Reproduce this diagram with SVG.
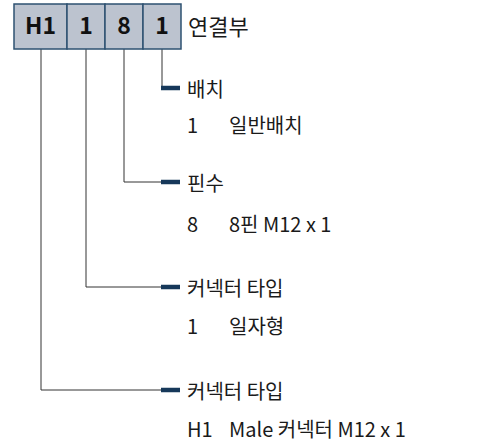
<svg xmlns="http://www.w3.org/2000/svg" width="481" height="442" viewBox="0 0 481 442">
<style>
.box{fill:#bcc3cf;stroke:#2e5272;stroke-width:1.5}
.code{font-family:"Noto Sans CJK KR","Noto Sans",sans-serif;font-weight:bold;font-size:23px;fill:#111;text-anchor:middle}
.t{font-family:"Noto Sans CJK KR","Noto Sans",sans-serif;font-size:20px;fill:#1a1a1a}
.title{font-family:"Noto Sans CJK KR","Noto Sans",sans-serif;font-size:22px;fill:#1a1a1a}
.ln{fill:none;stroke:#333;stroke-width:1}
.bar{stroke:#16385a;stroke-width:4.5}
</style>
<rect width="481" height="442" fill="#fff"/>
<g id="connectors">
<path class="ln" d="M162,49 V88 H161"/>
<path class="ln" d="M124,49 V182 H161"/>
<path class="ln" d="M86,49 V287 H161"/>
<path class="ln" d="M41,49 V390 H161"/>
<line class="bar" x1="161" y1="88" x2="180" y2="88"/>
<line class="bar" x1="161" y1="182" x2="180" y2="182"/>
<line class="bar" x1="161" y1="287" x2="180" y2="287"/>
<line class="bar" x1="161" y1="390" x2="180" y2="390"/>
</g>
<g id="header">
<rect class="box" x="14" y="4" width="53" height="45"/>
<rect class="box" x="67" y="4" width="38" height="45"/>
<rect class="box" x="105" y="4" width="38" height="45"/>
<rect class="box" x="143" y="4" width="38" height="45"/>
<text class="code" x="40.5" y="34">H1</text>
<text class="code" x="86" y="34">1</text>
<text class="code" x="124" y="34">8</text>
<text class="code" x="162" y="34">1</text>
<text class="title" x="188" y="35">연결부</text>
</g>
<g id="node-baechi">
<text class="t" x="187" y="97">배치</text>
<text class="t" x="187" y="133">1</text>
<text class="t" x="229" y="133">일반배치</text>
</g>
<g id="node-pinsu">
<text class="t" x="187" y="191">핀수</text>
<text class="t" x="187" y="232">8</text>
<text class="t" x="229" y="232">8핀 M12 x 1</text>
</g>
<g id="node-type1">
<text class="t" x="187" y="296">커넥터 타입</text>
<text class="t" x="187" y="334">1</text>
<text class="t" x="229" y="334">일자형</text>
</g>
<g id="node-type2">
<text class="t" x="187" y="399">커넥터 타입</text>
<text class="t" x="187" y="437">H1</text>
<text class="t" x="229" y="437">Male 커넥터 M12 x 1</text>
</g>
</svg>
